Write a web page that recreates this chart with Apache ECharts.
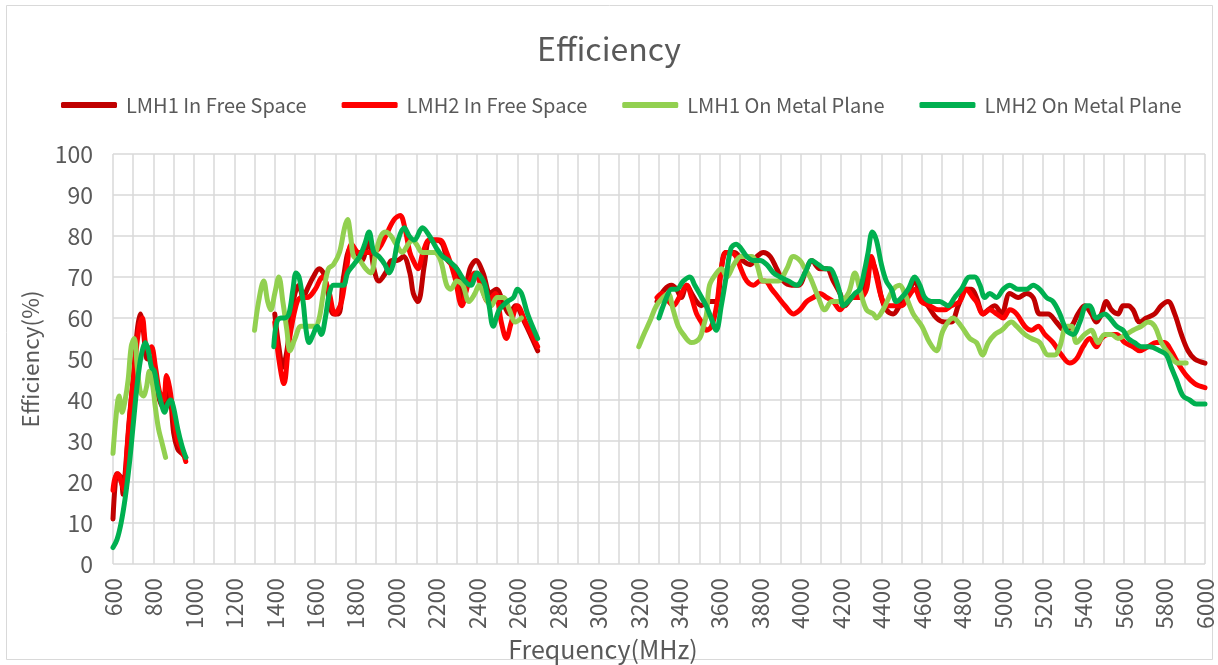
<!DOCTYPE html>
<html><head><meta charset="utf-8">
<script src="https://cdn.jsdelivr.net/npm/echarts@6/dist/echarts.min.js"></script>
<style>html,body{margin:0;padding:0;background:#fff}#c{width:1218px;height:665px}</style>
</head><body><div id="c"></div>
<script>
// ---- data (null = gap between measured bands) ----
const seriesNames = ['LMH1 In Free Space','LMH2 In Free Space','LMH1 On Metal Plane','LMH2 On Metal Plane'];
const xTicksMin = 600, xTicksMax = 6000;

const f1 = [600,610,620,640,650,660,680,700,720,735,750,770,790,810,830,850,870,885,900,920,940,960,
 1200,
 1400,1420,1440,1460,1480,1500,1520,1540,1560,1590,1620,1640,1660,1690,1715,1740,1775,1805,1830,1865,1890,1915,1948,1980,2005,2036,2068,2085,2108,2140,2165,2200,2230,2255,2300,2330,2365,2395,2430,2465,2495,2535,2560,2590,2635,2700,
 3000,
 3290,3328,3362,3387,3410,3437,3461,3486,3510,3535,3560,3585,3608,3630,3672,3713,3751,3784,3816,3850,3882,3915,3956,3990,4030,4055,4096,4129,4162,4195,4220,4252,4285,4310,4330,4350,4375,4400,4424,4458,4490,4523,4565,4597,4630,4672,4713,4745,4780,4820,4845,4870,4903,4928,4961,4994,5035,5076,5117,5150,5183,5224,5265,5306,5340,5372,5405,5438,5463,5488,5512,5537,5570,5595,5620,5644,5677,5710,5751,5784,5817,5850,5883,5916,5949,6000];
const e1 = [11,19,22,21,17,22,35,45,57,61,57,50,50,44,40,38,43,40,32,28,27,26,
 null,
 61,53,48,52,60,66,68,65,67,70,72,71,67,61,61,70,77,76,74,79,72,69,71,74,74,75,71,66,64,73,79,79,78,74,72,64,72,74,71,66,67,63,61,63,59,52,
 null,
 64,67,68,67,65,68,66,64,63,64,64,64,72,76,76,74,73,75,76,75,72,69,68,68,72,74,72,72,69,66,63,65,66,67,70,74,71,65,62,61,63,65,69,65,63,60,59,59,63,67,67,65,61,62,63,61,66,65,66,65,61,61,59,57,58,61,63,61,59,61,64,62,61,63,63,62,59,60,61,63,64,61,56,52,50,49];

const f2 = [600,610,625,640,655,670,690,710,730,745,760,775,790,810,830,850,865,880,900,920,940,960,
 1200,
 1400,1420,1445,1470,1505,1530,1560,1600,1635,1665,1698,1730,1755,1780,1815,1850,1880,1915,1948,1990,2020,2043,2068,2085,2108,2133,2165,2215,2250,2290,2325,2355,2390,2420,2455,2490,2520,2545,2570,2600,2640,2690,2700,
 3000,
 3290,3315,3349,3370,3400,3437,3461,3486,3510,3535,3560,3585,3608,3632,3656,3681,3705,3734,3767,3800,3824,3858,3890,3923,3964,3997,4030,4063,4096,4129,4162,4195,4227,4260,4293,4326,4350,4375,4400,4424,4458,4500,4530,4565,4597,4638,4680,4713,4745,4787,4820,4853,4870,4903,4936,4969,5002,5035,5068,5109,5142,5175,5208,5249,5290,5331,5364,5397,5430,5463,5488,5521,5562,5603,5644,5677,5718,5759,5800,5833,5866,5907,5949,6000];
const e2 = [18,21,22,20,18,28,40,50,58,60,54,52,53,48,42,40,46,43,36,30,28,25,
 null,
 59,50,44,54,63,65,65,67,70,67,61,64,72,78,76,76,76,77,80,84,85,82,76,74,72,76,79,79,76,70,63,68,71,68,64,66,59,55,59,63,59,54,53,
 null,
 65,66,64,63,65,68,65,61,59,57,58,63,72,76,76,75,72,69,68,69,69,67,65,63,61,62,64,65,66,65,64,62,64,65,65,67,75,70,65,63,63,63,65,67,64,63,62,62,63,64,67,65,64,61,62,61,60,62,61,58,57,58,56,54,51,49,50,53,55,53,55,56,56,54,53,52,53,54,54,52,49,46,44,43];

const f3 = [600,615,630,645,660,675,690,705,720,735,750,765,780,795,810,825,840,860,
 1100,
 1300,1320,1345,1365,1380,1400,1420,1440,1460,1475,1500,1530,1560,1580,1600,1620,1640,1665,1690,1720,1745,1760,1775,1790,1820,1850,1875,1900,1925,1950,1975,2000,2030,2060,2080,2100,2130,2160,2190,2220,2250,2270,2300,2330,2360,2390,2410,2440,2470,2500,2530,2560,2590,2620,
 2900,
 3200,3225,3253,3287,3320,3345,3370,3395,3420,3460,3500,3520,3535,3550,3585,3610,3635,3670,3705,3726,3760,3784,3816,3858,3890,3932,3964,3997,4022,4047,4088,4120,4154,4195,4236,4269,4293,4326,4360,4375,4408,4458,4490,4515,4557,4600,4638,4672,4705,4755,4795,4837,4870,4900,4928,4961,4994,5043,5068,5109,5142,5183,5224,5257,5282,5315,5340,5364,5405,5438,5471,5504,5537,5570,5610,5644,5685,5718,5751,5784,5825,5866,5907];
const e3 = [27,36,41,37,40,45,53,55,48,42,41,43,47,44,38,33,30,26,
 null,
 57,64,69,64,62,66,70,64,57,52,55,58,58,58,58,60,66,72,73,76,82,84,80,75,74,72,71,76,80,81,80,78,76,78,79,78,76,76,76,74,68,67,69,68,64,66,68,65,63,65,65,62,59,60,
 null,
 53,56,59,63,65,66,62,58,56,54,55,58,61,68,71,72,70,73,75,75,75,73,69,69,69,72,75,74,72,70,65,62,64,64,66,71,67,62,61,60,62,67,68,66,61,58,54,52,57,60,58,55,54,51,54,56,57,59,58,56,55,54,51,51,53,58,58,54,56,57,54,56,56,55,56,57,58,59,58,54,51,49,49];

const f4 = [600,620,640,660,680,700,720,740,760,775,790,805,820,840,855,870,885,900,920,940,960,
 1200,
 1395,1410,1430,1450,1470,1490,1505,1520,1540,1555,1570,1590,1610,1630,1650,1670,1690,1720,1740,1760,1790,1820,1845,1866,1890,1915,1945,1965,1985,2010,2040,2065,2090,2130,2165,2200,2230,2260,2300,2340,2370,2400,2420,2440,2460,2480,2510,2550,2580,2600,2620,2650,2700,
 3000,
 3300,3337,3362,3387,3420,3453,3477,3500,3533,3558,3583,3608,3632,3656,3681,3705,3734,3767,3800,3833,3866,3899,3940,3981,4022,4055,4088,4120,4145,4170,4195,4211,4236,4269,4293,4318,4334,4355,4375,4400,4424,4450,4474,4500,4532,4565,4590,4614,4647,4688,4729,4762,4795,4836,4862,4887,4911,4936,4969,5002,5035,5076,5117,5150,5183,5216,5249,5282,5315,5348,5381,5413,5430,5463,5504,5529,5562,5595,5620,5652,5685,5726,5776,5809,5833,5858,5891,5924,5957,6000];
const e4 = [4,6,10,16,24,34,44,51,54,52,48,47,43,39,37,39,40,38,33,29,26,
 null,
 53,59,60,60,61,67,71,70,64,57,54,56,58,56,60,66,68,68,68,71,73,75,78,81,76,75,73,71,73,79,82,80,79,82,80,77,75,74,72,69,68,71,70,68,63,58,62,64,65,67,66,61,55,
 null,
 60,65,67,67,69,70,68,66,63,60,57,63,70,77,78,77,75,74,74,73,71,70,69,68,71,74,73,72,72,70,66,63,64,66,67,72,76,81,79,73,69,67,64,65,67,70,68,65,64,64,63,65,67,70,70,68,65,66,65,67,68,67,67,68,67,65,64,61,57,56,59,63,63,60,61,60,58,57,55,54,53,53,52,51,48,45,41,40,39,39];

const colors = ['#C00000','#FF0000','#92D050','#00B050'];
// ---------------------------------------------------

const pairs = (f, e) => f.map((x, i) => [x, e[i] === null ? '-' : e[i]]);
const allF = [f1, f2, f3, f4], allE = [e1, e2, e3, e4];
const FONT = "'Noto Sans CJK SC', 'Noto Sans', sans-serif";
const TXT = '#595959';

const chart = echarts.init(document.getElementById('c'), null, {renderer: 'canvas'});
chart.setOption({
  animation: false,
  backgroundColor: '#fff',
  textStyle: {fontFamily: FONT},
  graphic: [{type: 'rect', shape: {x: 6.5, y: 5.5, width: 1206, height: 654},
    style: {fill: 'none', stroke: '#d9d9d9', lineWidth: 1}, silent: true}],
  title: {text: 'Efficiency', left: 'center', top: 28,
    textStyle: {fontFamily: FONT, fontSize: 32, fontWeight: 'normal', color: TXT}},
  legend: {top: 90, left: 56, itemWidth: 56, itemHeight: 6, itemGap: 35, icon: 'roundRect',
    data: seriesNames,
    textStyle: {fontFamily: FONT, fontSize: 20, color: TXT, padding: [0, 0, 0, 4]}},
  grid: {left: 113, right: 13, top: 154, bottom: 101, containLabel: false, outerBoundsMode: 'none'},
  xAxis: {type: 'value', min: xTicksMin, max: xTicksMax, interval: 100,
    name: 'Frequency(MHz)', nameLocation: 'middle', nameGap: 69,
    nameTextStyle: {fontFamily: FONT, fontSize: 25, color: TXT, padding: [0, 112, 0, 0]},
    axisLine: {show: false}, axisTick: {show: false},
    axisLabel: {rotate: 90, margin: 14, fontSize: 23, color: TXT, fontFamily: FONT,
      formatter: v => (v % 200 === 0 ? String(v) : '')},
    splitLine: {show: true, lineStyle: {color: '#d9d9d9', width: 1.5}}},
  yAxis: {type: 'value', min: 0, max: 100, interval: 10,
    name: 'Efficiency(%)', nameLocation: 'middle', nameGap: 71,
    nameTextStyle: {fontFamily: FONT, fontSize: 22.5, color: TXT},
    axisLine: {show: false}, axisTick: {show: false},
    axisLabel: {margin: 20, fontSize: 23, color: TXT, fontFamily: FONT},
    splitLine: {show: true, lineStyle: {color: '#d9d9d9', width: 1.5}}},
  series: seriesNames.map((n, i) => ({
    name: n, type: 'line', data: pairs(allF[i], allE[i]), showSymbol: false, symbol: 'none',
    smooth: 0.35, connectNulls: false, color: colors[i],
    lineStyle: {width: 5, color: colors[i], cap: 'round', join: 'round'},
    itemStyle: {color: colors[i]}
  }))
});
</script></body></html>
